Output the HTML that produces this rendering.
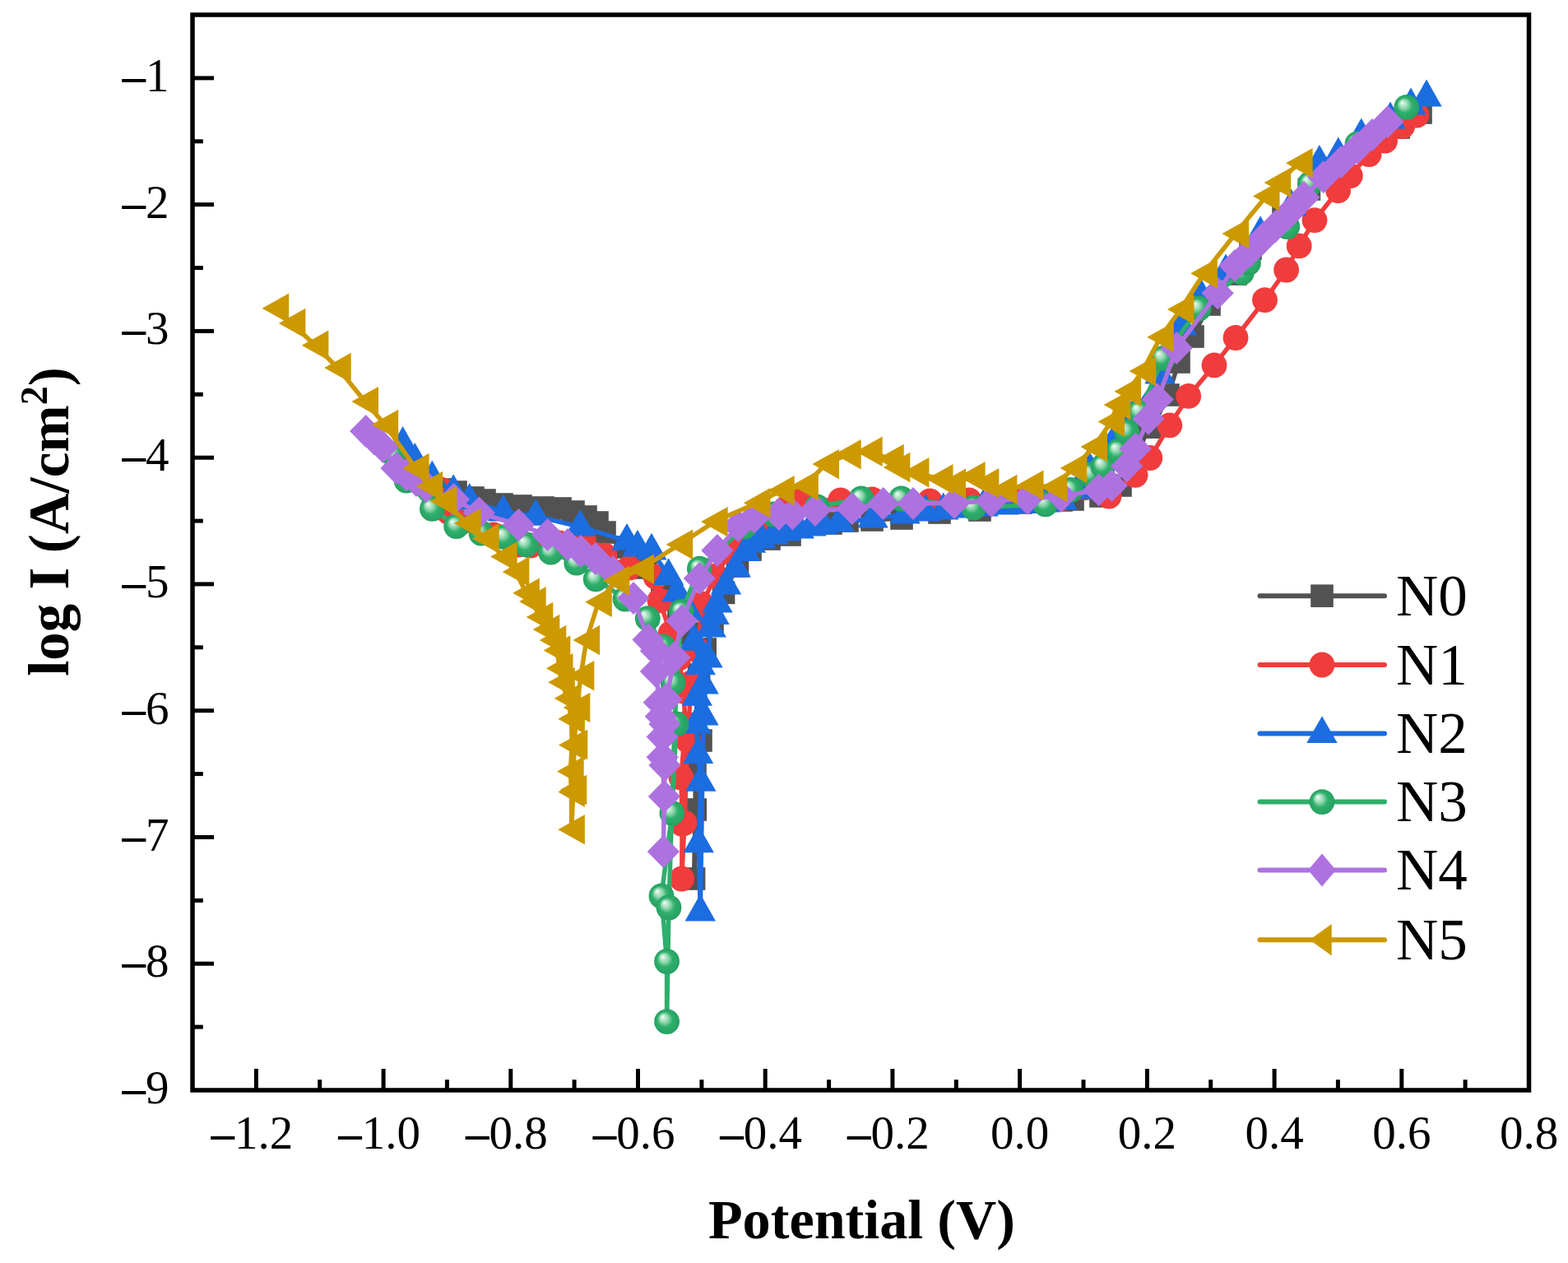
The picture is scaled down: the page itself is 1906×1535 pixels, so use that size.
<!DOCTYPE html><html><head><meta charset="utf-8"><style>html,body{margin:0;padding:0;background:#fff;}svg{display:block;font-family:"Liberation Serif","Times New Roman",serif;}</style></head><body><svg width="1906" height="1535" viewBox="0 0 1906 1535">
<defs><radialGradient id="gsp" cx="0.5" cy="0.5" r="0.5" fx="0.32" fy="0.3"><stop offset="0" stop-color="#f4fff8"/><stop offset="0.35" stop-color="#8fd6ad"/><stop offset="0.6" stop-color="#2eaf6b"/><stop offset="1" stop-color="#27a062"/></radialGradient></defs>
<rect width="1906" height="1535" fill="#ffffff"/>
<polyline points="537.0,595.0 554.0,598.0 575.0,605.0 589.0,608.0 610.0,613.0 633.0,615.0 660.0,617.0 681.0,618.0 697.0,622.0 712.0,628.0 726.0,635.0 735.0,647.0 760.0,665.0 785.0,690.0 805.0,712.0 825.0,740.0 840.0,770.0 849.6,820.0 845.7,880.0 845.0,930.0 845.3,984.0 843.6,1068.0 852.0,900.0 857.2,789.0 866.0,760.0 879.6,720.4 896.5,688.0 912.0,668.0 935.0,655.0 960.0,650.0 1010.0,636.0 1030.0,633.0 1060.0,632.0 1096.0,630.0 1142.0,623.0 1191.0,620.0 1241.0,611.0 1290.0,608.0 1304.0,607.0 1338.0,603.0 1362.0,590.0 1380.0,560.0 1396.0,519.0 1401.0,519.0 1420.0,480.0 1433.0,440.0 1450.0,409.0 1470.0,370.0 1502.0,333.0 1520.0,302.0 1560.0,265.0 1591.4,230.0 1627.0,209.0 1660.0,180.0 1700.0,155.0 1727.0,137.0" fill="none" stroke="#525252" stroke-width="5.5" stroke-linejoin="round"/>
<rect x="523.2" y="581.2" width="27.6" height="27.6" fill="#525252"/>
<rect x="540.2" y="584.2" width="27.6" height="27.6" fill="#525252"/>
<rect x="561.2" y="591.2" width="27.6" height="27.6" fill="#525252"/>
<rect x="575.2" y="594.2" width="27.6" height="27.6" fill="#525252"/>
<rect x="596.2" y="599.2" width="27.6" height="27.6" fill="#525252"/>
<rect x="619.2" y="601.2" width="27.6" height="27.6" fill="#525252"/>
<rect x="646.2" y="603.2" width="27.6" height="27.6" fill="#525252"/>
<rect x="667.2" y="604.2" width="27.6" height="27.6" fill="#525252"/>
<rect x="683.2" y="608.2" width="27.6" height="27.6" fill="#525252"/>
<rect x="698.2" y="614.2" width="27.6" height="27.6" fill="#525252"/>
<rect x="712.2" y="621.2" width="27.6" height="27.6" fill="#525252"/>
<rect x="721.2" y="633.2" width="27.6" height="27.6" fill="#525252"/>
<rect x="746.2" y="651.2" width="27.6" height="27.6" fill="#525252"/>
<rect x="771.2" y="676.2" width="27.6" height="27.6" fill="#525252"/>
<rect x="791.2" y="698.2" width="27.6" height="27.6" fill="#525252"/>
<rect x="811.2" y="726.2" width="27.6" height="27.6" fill="#525252"/>
<rect x="826.2" y="756.2" width="27.6" height="27.6" fill="#525252"/>
<rect x="835.8" y="806.2" width="27.6" height="27.6" fill="#525252"/>
<rect x="831.9" y="866.2" width="27.6" height="27.6" fill="#525252"/>
<rect x="831.2" y="916.2" width="27.6" height="27.6" fill="#525252"/>
<rect x="831.5" y="970.2" width="27.6" height="27.6" fill="#525252"/>
<rect x="829.8" y="1054.2" width="27.6" height="27.6" fill="#525252"/>
<rect x="838.2" y="886.2" width="27.6" height="27.6" fill="#525252"/>
<rect x="843.4" y="775.2" width="27.6" height="27.6" fill="#525252"/>
<rect x="852.2" y="746.2" width="27.6" height="27.6" fill="#525252"/>
<rect x="865.8" y="706.6" width="27.6" height="27.6" fill="#525252"/>
<rect x="882.7" y="674.2" width="27.6" height="27.6" fill="#525252"/>
<rect x="898.2" y="654.2" width="27.6" height="27.6" fill="#525252"/>
<rect x="921.2" y="641.2" width="27.6" height="27.6" fill="#525252"/>
<rect x="946.2" y="636.2" width="27.6" height="27.6" fill="#525252"/>
<rect x="996.2" y="622.2" width="27.6" height="27.6" fill="#525252"/>
<rect x="1016.2" y="619.2" width="27.6" height="27.6" fill="#525252"/>
<rect x="1046.2" y="618.2" width="27.6" height="27.6" fill="#525252"/>
<rect x="1082.2" y="616.2" width="27.6" height="27.6" fill="#525252"/>
<rect x="1128.2" y="609.2" width="27.6" height="27.6" fill="#525252"/>
<rect x="1177.2" y="606.2" width="27.6" height="27.6" fill="#525252"/>
<rect x="1227.2" y="597.2" width="27.6" height="27.6" fill="#525252"/>
<rect x="1276.2" y="594.2" width="27.6" height="27.6" fill="#525252"/>
<rect x="1290.2" y="593.2" width="27.6" height="27.6" fill="#525252"/>
<rect x="1324.2" y="589.2" width="27.6" height="27.6" fill="#525252"/>
<rect x="1348.2" y="576.2" width="27.6" height="27.6" fill="#525252"/>
<rect x="1366.2" y="546.2" width="27.6" height="27.6" fill="#525252"/>
<rect x="1382.2" y="505.2" width="27.6" height="27.6" fill="#525252"/>
<rect x="1387.2" y="505.2" width="27.6" height="27.6" fill="#525252"/>
<rect x="1406.2" y="466.2" width="27.6" height="27.6" fill="#525252"/>
<rect x="1419.2" y="426.2" width="27.6" height="27.6" fill="#525252"/>
<rect x="1436.2" y="395.2" width="27.6" height="27.6" fill="#525252"/>
<rect x="1456.2" y="356.2" width="27.6" height="27.6" fill="#525252"/>
<rect x="1488.2" y="319.2" width="27.6" height="27.6" fill="#525252"/>
<rect x="1506.2" y="288.2" width="27.6" height="27.6" fill="#525252"/>
<rect x="1546.2" y="251.2" width="27.6" height="27.6" fill="#525252"/>
<rect x="1577.6" y="216.2" width="27.6" height="27.6" fill="#525252"/>
<rect x="1613.2" y="195.2" width="27.6" height="27.6" fill="#525252"/>
<rect x="1646.2" y="166.2" width="27.6" height="27.6" fill="#525252"/>
<rect x="1686.2" y="141.2" width="27.6" height="27.6" fill="#525252"/>
<rect x="1713.2" y="123.2" width="27.6" height="27.6" fill="#525252"/>
<polyline points="488.0,552.0 505.0,572.0 536.0,595.0 545.0,622.0 560.0,635.0 600.0,650.0 630.0,662.0 645.0,663.0 680.0,660.0 709.0,655.0 720.0,673.0 735.0,675.0 765.0,690.0 797.0,701.0 802.0,729.8 815.0,770.0 825.0,800.0 831.0,840.0 833.0,880.0 828.0,945.0 829.2,1001.4 828.7,1068.0 832.0,1000.0 836.0,900.0 840.0,830.0 848.0,790.0 853.0,734.0 870.0,700.0 888.0,670.0 904.0,652.0 930.0,630.0 955.0,618.0 974.0,608.0 1021.7,608.0 1060.0,607.0 1130.3,609.0 1178.0,608.0 1235.0,607.0 1290.0,606.0 1348.0,603.0 1380.1,577.3 1397.8,556.5 1421.8,516.8 1444.7,481.4 1476.0,443.9 1502.0,410.5 1537.5,364.6 1563.6,328.0 1579.2,298.9 1598.0,267.6 1626.6,231.5 1641.3,213.6 1664.1,187.5 1683.6,171.2 1704.8,153.3 1722.0,140.0" fill="none" stroke="#f03c3c" stroke-width="5.5" stroke-linejoin="round"/>
<circle cx="488.0" cy="552.0" r="15.4" fill="#f03c3c"/>
<circle cx="505.0" cy="572.0" r="15.4" fill="#f03c3c"/>
<circle cx="536.0" cy="595.0" r="15.4" fill="#f03c3c"/>
<circle cx="545.0" cy="622.0" r="15.4" fill="#f03c3c"/>
<circle cx="560.0" cy="635.0" r="15.4" fill="#f03c3c"/>
<circle cx="600.0" cy="650.0" r="15.4" fill="#f03c3c"/>
<circle cx="630.0" cy="662.0" r="15.4" fill="#f03c3c"/>
<circle cx="645.0" cy="663.0" r="15.4" fill="#f03c3c"/>
<circle cx="680.0" cy="660.0" r="15.4" fill="#f03c3c"/>
<circle cx="709.0" cy="655.0" r="15.4" fill="#f03c3c"/>
<circle cx="720.0" cy="673.0" r="15.4" fill="#f03c3c"/>
<circle cx="735.0" cy="675.0" r="15.4" fill="#f03c3c"/>
<circle cx="765.0" cy="690.0" r="15.4" fill="#f03c3c"/>
<circle cx="797.0" cy="701.0" r="15.4" fill="#f03c3c"/>
<circle cx="802.0" cy="729.8" r="15.4" fill="#f03c3c"/>
<circle cx="815.0" cy="770.0" r="15.4" fill="#f03c3c"/>
<circle cx="825.0" cy="800.0" r="15.4" fill="#f03c3c"/>
<circle cx="831.0" cy="840.0" r="15.4" fill="#f03c3c"/>
<circle cx="833.0" cy="880.0" r="15.4" fill="#f03c3c"/>
<circle cx="828.0" cy="945.0" r="15.4" fill="#f03c3c"/>
<circle cx="829.2" cy="1001.4" r="15.4" fill="#f03c3c"/>
<circle cx="828.7" cy="1068.0" r="15.4" fill="#f03c3c"/>
<circle cx="832.0" cy="1000.0" r="15.4" fill="#f03c3c"/>
<circle cx="836.0" cy="900.0" r="15.4" fill="#f03c3c"/>
<circle cx="840.0" cy="830.0" r="15.4" fill="#f03c3c"/>
<circle cx="848.0" cy="790.0" r="15.4" fill="#f03c3c"/>
<circle cx="853.0" cy="734.0" r="15.4" fill="#f03c3c"/>
<circle cx="870.0" cy="700.0" r="15.4" fill="#f03c3c"/>
<circle cx="888.0" cy="670.0" r="15.4" fill="#f03c3c"/>
<circle cx="904.0" cy="652.0" r="15.4" fill="#f03c3c"/>
<circle cx="930.0" cy="630.0" r="15.4" fill="#f03c3c"/>
<circle cx="955.0" cy="618.0" r="15.4" fill="#f03c3c"/>
<circle cx="974.0" cy="608.0" r="15.4" fill="#f03c3c"/>
<circle cx="1021.7" cy="608.0" r="15.4" fill="#f03c3c"/>
<circle cx="1060.0" cy="607.0" r="15.4" fill="#f03c3c"/>
<circle cx="1130.3" cy="609.0" r="15.4" fill="#f03c3c"/>
<circle cx="1178.0" cy="608.0" r="15.4" fill="#f03c3c"/>
<circle cx="1235.0" cy="607.0" r="15.4" fill="#f03c3c"/>
<circle cx="1290.0" cy="606.0" r="15.4" fill="#f03c3c"/>
<circle cx="1348.0" cy="603.0" r="15.4" fill="#f03c3c"/>
<circle cx="1380.1" cy="577.3" r="15.4" fill="#f03c3c"/>
<circle cx="1397.8" cy="556.5" r="15.4" fill="#f03c3c"/>
<circle cx="1421.8" cy="516.8" r="15.4" fill="#f03c3c"/>
<circle cx="1444.7" cy="481.4" r="15.4" fill="#f03c3c"/>
<circle cx="1476.0" cy="443.9" r="15.4" fill="#f03c3c"/>
<circle cx="1502.0" cy="410.5" r="15.4" fill="#f03c3c"/>
<circle cx="1537.5" cy="364.6" r="15.4" fill="#f03c3c"/>
<circle cx="1563.6" cy="328.0" r="15.4" fill="#f03c3c"/>
<circle cx="1579.2" cy="298.9" r="15.4" fill="#f03c3c"/>
<circle cx="1598.0" cy="267.6" r="15.4" fill="#f03c3c"/>
<circle cx="1626.6" cy="231.5" r="15.4" fill="#f03c3c"/>
<circle cx="1641.3" cy="213.6" r="15.4" fill="#f03c3c"/>
<circle cx="1664.1" cy="187.5" r="15.4" fill="#f03c3c"/>
<circle cx="1683.6" cy="171.2" r="15.4" fill="#f03c3c"/>
<circle cx="1704.8" cy="153.3" r="15.4" fill="#f03c3c"/>
<circle cx="1722.0" cy="140.0" r="15.4" fill="#f03c3c"/>
<polyline points="489.6,539.5 504.3,559.5 525.3,581.0 551.2,597.6 570.7,608.4 611.7,622.0 651.3,627.4 705.3,640.4 762.0,657.4 775.0,665.2 792.0,669.2 812.6,699.6 823.0,720.0 836.6,742.6 843.9,779.4 851.3,808.8 855.1,832.0 847.3,846.3 846.0,880.0 848.6,916.6 851.8,950.3 849.2,1024.8 851.3,1108.0 855.0,870.0 860.0,800.0 864.2,763.2 868.1,747.6 872.0,733.2 882.5,711.1 894.2,690.2 905.9,670.6 912.4,660.3 925.0,655.0 940.0,650.0 955.0,646.0 971.3,643.0 986.0,640.0 1000.0,638.0 1020.0,635.0 1061.0,630.0 1100.0,625.0 1125.0,622.0 1146.7,620.0 1170.0,618.0 1195.0,616.0 1220.0,614.0 1245.0,612.5 1270.0,611.0 1291.0,608.0 1310.0,595.0 1322.5,566.6 1351.4,540.3 1380.0,500.0 1410.0,455.0 1436.4,396.0 1460.0,360.0 1490.0,330.0 1532.1,283.6 1569.6,251.0 1603.8,197.3 1626.8,188.0 1654.7,165.0 1690.0,145.0 1715.0,128.0 1734.0,118.0" fill="none" stroke="#1b6de0" stroke-width="5.5" stroke-linejoin="round"/>
<polygon points="489.6,518.1 508.3,550.9 470.9,550.9" fill="#1b6de0"/>
<polygon points="504.3,538.1 523.0,570.9 485.6,570.9" fill="#1b6de0"/>
<polygon points="525.3,559.6 544.0,592.4 506.6,592.4" fill="#1b6de0"/>
<polygon points="551.2,576.2 569.9,609.0 532.5,609.0" fill="#1b6de0"/>
<polygon points="570.7,587.0 589.4,619.8 552.0,619.8" fill="#1b6de0"/>
<polygon points="611.7,600.6 630.4,633.4 593.0,633.4" fill="#1b6de0"/>
<polygon points="651.3,606.0 670.0,638.8 632.6,638.8" fill="#1b6de0"/>
<polygon points="705.3,619.0 724.0,651.8 686.6,651.8" fill="#1b6de0"/>
<polygon points="762.0,636.0 780.7,668.8 743.3,668.8" fill="#1b6de0"/>
<polygon points="775.0,643.8 793.7,676.6 756.3,676.6" fill="#1b6de0"/>
<polygon points="792.0,647.8 810.7,680.6 773.3,680.6" fill="#1b6de0"/>
<polygon points="812.6,678.2 831.3,711.0 793.9,711.0" fill="#1b6de0"/>
<polygon points="823.0,698.6 841.7,731.4 804.3,731.4" fill="#1b6de0"/>
<polygon points="836.6,721.2 855.3,754.0 817.9,754.0" fill="#1b6de0"/>
<polygon points="843.9,758.0 862.6,790.8 825.2,790.8" fill="#1b6de0"/>
<polygon points="851.3,787.4 870.0,820.2 832.6,820.2" fill="#1b6de0"/>
<polygon points="855.1,810.6 873.8,843.4 836.4,843.4" fill="#1b6de0"/>
<polygon points="847.3,824.9 866.0,857.7 828.6,857.7" fill="#1b6de0"/>
<polygon points="846.0,858.6 864.7,891.4 827.3,891.4" fill="#1b6de0"/>
<polygon points="848.6,895.2 867.3,928.0 829.9,928.0" fill="#1b6de0"/>
<polygon points="851.8,928.9 870.5,961.7 833.1,961.7" fill="#1b6de0"/>
<polygon points="849.2,1003.4 867.9,1036.2 830.5,1036.2" fill="#1b6de0"/>
<polygon points="851.3,1086.6 870.0,1119.4 832.6,1119.4" fill="#1b6de0"/>
<polygon points="855.0,848.6 873.7,881.4 836.3,881.4" fill="#1b6de0"/>
<polygon points="860.0,778.6 878.7,811.4 841.3,811.4" fill="#1b6de0"/>
<polygon points="864.2,741.8 882.9,774.6 845.5,774.6" fill="#1b6de0"/>
<polygon points="868.1,726.2 886.8,759.0 849.4,759.0" fill="#1b6de0"/>
<polygon points="872.0,711.8 890.7,744.6 853.3,744.6" fill="#1b6de0"/>
<polygon points="882.5,689.7 901.2,722.5 863.8,722.5" fill="#1b6de0"/>
<polygon points="894.2,668.8 912.9,701.6 875.5,701.6" fill="#1b6de0"/>
<polygon points="905.9,649.2 924.6,682.0 887.2,682.0" fill="#1b6de0"/>
<polygon points="912.4,638.9 931.1,671.7 893.7,671.7" fill="#1b6de0"/>
<polygon points="925.0,633.6 943.7,666.4 906.3,666.4" fill="#1b6de0"/>
<polygon points="940.0,628.6 958.7,661.4 921.3,661.4" fill="#1b6de0"/>
<polygon points="955.0,624.6 973.7,657.4 936.3,657.4" fill="#1b6de0"/>
<polygon points="971.3,621.6 990.0,654.4 952.6,654.4" fill="#1b6de0"/>
<polygon points="986.0,618.6 1004.7,651.4 967.3,651.4" fill="#1b6de0"/>
<polygon points="1000.0,616.6 1018.7,649.4 981.3,649.4" fill="#1b6de0"/>
<polygon points="1020.0,613.6 1038.7,646.4 1001.3,646.4" fill="#1b6de0"/>
<polygon points="1061.0,608.6 1079.7,641.4 1042.3,641.4" fill="#1b6de0"/>
<polygon points="1100.0,603.6 1118.7,636.4 1081.3,636.4" fill="#1b6de0"/>
<polygon points="1125.0,600.6 1143.7,633.4 1106.3,633.4" fill="#1b6de0"/>
<polygon points="1146.7,598.6 1165.4,631.4 1128.0,631.4" fill="#1b6de0"/>
<polygon points="1170.0,596.6 1188.7,629.4 1151.3,629.4" fill="#1b6de0"/>
<polygon points="1195.0,594.6 1213.7,627.4 1176.3,627.4" fill="#1b6de0"/>
<polygon points="1220.0,592.6 1238.7,625.4 1201.3,625.4" fill="#1b6de0"/>
<polygon points="1245.0,591.1 1263.7,623.9 1226.3,623.9" fill="#1b6de0"/>
<polygon points="1270.0,589.6 1288.7,622.4 1251.3,622.4" fill="#1b6de0"/>
<polygon points="1291.0,586.6 1309.7,619.4 1272.3,619.4" fill="#1b6de0"/>
<polygon points="1310.0,573.6 1328.7,606.4 1291.3,606.4" fill="#1b6de0"/>
<polygon points="1322.5,545.2 1341.2,578.0 1303.8,578.0" fill="#1b6de0"/>
<polygon points="1351.4,518.9 1370.1,551.7 1332.7,551.7" fill="#1b6de0"/>
<polygon points="1380.0,478.6 1398.7,511.4 1361.3,511.4" fill="#1b6de0"/>
<polygon points="1410.0,433.6 1428.7,466.4 1391.3,466.4" fill="#1b6de0"/>
<polygon points="1436.4,374.6 1455.1,407.4 1417.7,407.4" fill="#1b6de0"/>
<polygon points="1460.0,338.6 1478.7,371.4 1441.3,371.4" fill="#1b6de0"/>
<polygon points="1490.0,308.6 1508.7,341.4 1471.3,341.4" fill="#1b6de0"/>
<polygon points="1532.1,262.2 1550.8,295.0 1513.4,295.0" fill="#1b6de0"/>
<polygon points="1569.6,229.6 1588.3,262.4 1550.9,262.4" fill="#1b6de0"/>
<polygon points="1603.8,175.9 1622.5,208.7 1585.1,208.7" fill="#1b6de0"/>
<polygon points="1626.8,166.6 1645.5,199.4 1608.1,199.4" fill="#1b6de0"/>
<polygon points="1654.7,143.6 1673.4,176.4 1636.0,176.4" fill="#1b6de0"/>
<polygon points="1690.0,123.6 1708.7,156.4 1671.3,156.4" fill="#1b6de0"/>
<polygon points="1715.0,106.6 1733.7,139.4 1696.3,139.4" fill="#1b6de0"/>
<polygon points="1734.0,96.6 1752.7,129.4 1715.3,129.4" fill="#1b6de0"/>
<polyline points="478.0,552.0 494.0,584.0 525.4,618.4 554.7,639.6 585.0,648.0 613.4,652.6 640.0,662.0 669.5,671.2 700.8,684.2 724.2,703.8 760.0,728.0 787.3,751.7 806.0,786.0 818.0,830.0 822.0,880.0 816.9,988.1 804.0,1089.0 810.6,1168.5 810.6,1241.6 813.0,1103.0 820.0,880.0 828.2,743.3 850.4,691.2 905.0,640.0 940.0,625.0 993.3,616.0 1047.0,606.0 1095.6,606.0 1183.5,617.0 1270.7,612.9 1301.5,595.4 1325.1,577.0 1340.9,566.6 1359.2,548.2 1369.7,524.6 1385.5,501.0 1413.4,435.5 1457.2,375.0 1509.4,331.3 1517.5,319.5 1564.7,275.5 1592.4,223.3 1650.0,175.0 1709.7,130.5" fill="none" stroke="#2eaf6b" stroke-width="5.5" stroke-linejoin="round"/>
<circle cx="478.0" cy="552.0" r="15.4" fill="url(#gsp)"/>
<circle cx="494.0" cy="584.0" r="15.4" fill="url(#gsp)"/>
<circle cx="525.4" cy="618.4" r="15.4" fill="url(#gsp)"/>
<circle cx="554.7" cy="639.6" r="15.4" fill="url(#gsp)"/>
<circle cx="585.0" cy="648.0" r="15.4" fill="url(#gsp)"/>
<circle cx="613.4" cy="652.6" r="15.4" fill="url(#gsp)"/>
<circle cx="640.0" cy="662.0" r="15.4" fill="url(#gsp)"/>
<circle cx="669.5" cy="671.2" r="15.4" fill="url(#gsp)"/>
<circle cx="700.8" cy="684.2" r="15.4" fill="url(#gsp)"/>
<circle cx="724.2" cy="703.8" r="15.4" fill="url(#gsp)"/>
<circle cx="760.0" cy="728.0" r="15.4" fill="url(#gsp)"/>
<circle cx="787.3" cy="751.7" r="15.4" fill="url(#gsp)"/>
<circle cx="806.0" cy="786.0" r="15.4" fill="url(#gsp)"/>
<circle cx="818.0" cy="830.0" r="15.4" fill="url(#gsp)"/>
<circle cx="822.0" cy="880.0" r="15.4" fill="url(#gsp)"/>
<circle cx="816.9" cy="988.1" r="15.4" fill="url(#gsp)"/>
<circle cx="804.0" cy="1089.0" r="15.4" fill="url(#gsp)"/>
<circle cx="810.6" cy="1168.5" r="15.4" fill="url(#gsp)"/>
<circle cx="810.6" cy="1241.6" r="15.4" fill="url(#gsp)"/>
<circle cx="813.0" cy="1103.0" r="15.4" fill="url(#gsp)"/>
<circle cx="820.0" cy="880.0" r="15.4" fill="url(#gsp)"/>
<circle cx="828.2" cy="743.3" r="15.4" fill="url(#gsp)"/>
<circle cx="850.4" cy="691.2" r="15.4" fill="url(#gsp)"/>
<circle cx="905.0" cy="640.0" r="15.4" fill="url(#gsp)"/>
<circle cx="940.0" cy="625.0" r="15.4" fill="url(#gsp)"/>
<circle cx="993.3" cy="616.0" r="15.4" fill="url(#gsp)"/>
<circle cx="1047.0" cy="606.0" r="15.4" fill="url(#gsp)"/>
<circle cx="1095.6" cy="606.0" r="15.4" fill="url(#gsp)"/>
<circle cx="1183.5" cy="617.0" r="15.4" fill="url(#gsp)"/>
<circle cx="1270.7" cy="612.9" r="15.4" fill="url(#gsp)"/>
<circle cx="1301.5" cy="595.4" r="15.4" fill="url(#gsp)"/>
<circle cx="1325.1" cy="577.0" r="15.4" fill="url(#gsp)"/>
<circle cx="1340.9" cy="566.6" r="15.4" fill="url(#gsp)"/>
<circle cx="1359.2" cy="548.2" r="15.4" fill="url(#gsp)"/>
<circle cx="1369.7" cy="524.6" r="15.4" fill="url(#gsp)"/>
<circle cx="1385.5" cy="501.0" r="15.4" fill="url(#gsp)"/>
<circle cx="1413.4" cy="435.5" r="15.4" fill="url(#gsp)"/>
<circle cx="1457.2" cy="375.0" r="15.4" fill="url(#gsp)"/>
<circle cx="1509.4" cy="331.3" r="15.4" fill="url(#gsp)"/>
<circle cx="1517.5" cy="319.5" r="15.4" fill="url(#gsp)"/>
<circle cx="1564.7" cy="275.5" r="15.4" fill="url(#gsp)"/>
<circle cx="1592.4" cy="223.3" r="15.4" fill="url(#gsp)"/>
<circle cx="1650.0" cy="175.0" r="15.4" fill="url(#gsp)"/>
<circle cx="1709.7" cy="130.5" r="15.4" fill="url(#gsp)"/>
<polyline points="444.7,524.0 455.0,533.5 465.4,543.0 482.0,569.0 494.0,577.0 506.0,584.0 518.0,591.0 551.5,607.0 582.4,623.3 630.5,638.0 665.6,650.0 690.0,662.0 706.0,670.0 724.0,679.0 745.0,695.0 770.0,727.0 788.0,777.5 797.4,791.0 797.4,816.0 801.3,853.8 803.3,870.7 805.2,895.5 805.2,920.3 807.5,968.0 806.4,1035.0 808.0,930.0 808.0,880.0 810.0,850.0 819.9,799.0 828.9,754.5 850.4,703.0 871.9,669.0 897.3,639.0 916.8,628.7 946.8,625.0 963.4,624.5 990.9,620.0 1035.8,618.2 1073.6,612.0 1110.0,612.0 1160.0,611.0 1205.0,609.0 1249.0,606.0 1290.0,603.0 1335.6,595.4 1351.4,590.2 1369.7,566.6 1380.2,545.6 1396.0,508.9 1407.2,485.6 1430.1,423.0 1480.2,356.3 1501.0,322.9 1520.0,305.0 1535.0,290.0 1550.0,275.5 1568.0,258.0 1585.0,240.0 1608.7,215.2 1630.0,197.0 1650.0,180.0 1668.0,164.0 1687.0,148.0" fill="none" stroke="#ad72e0" stroke-width="5.5" stroke-linejoin="round"/>
<polygon points="444.7,504.1 464.3,524.0 444.7,543.9 425.1,524.0" fill="#ad72e0"/>
<polygon points="455.0,513.6 474.6,533.5 455.0,553.4 435.4,533.5" fill="#ad72e0"/>
<polygon points="465.4,523.1 485.0,543.0 465.4,562.9 445.8,543.0" fill="#ad72e0"/>
<polygon points="482.0,549.1 501.6,569.0 482.0,588.9 462.4,569.0" fill="#ad72e0"/>
<polygon points="494.0,557.1 513.6,577.0 494.0,596.9 474.4,577.0" fill="#ad72e0"/>
<polygon points="506.0,564.1 525.6,584.0 506.0,603.9 486.4,584.0" fill="#ad72e0"/>
<polygon points="518.0,571.1 537.6,591.0 518.0,610.9 498.4,591.0" fill="#ad72e0"/>
<polygon points="551.5,587.1 571.1,607.0 551.5,626.9 531.9,607.0" fill="#ad72e0"/>
<polygon points="582.4,603.4 602.0,623.3 582.4,643.2 562.8,623.3" fill="#ad72e0"/>
<polygon points="630.5,618.1 650.1,638.0 630.5,657.9 610.9,638.0" fill="#ad72e0"/>
<polygon points="665.6,630.1 685.2,650.0 665.6,669.9 646.0,650.0" fill="#ad72e0"/>
<polygon points="690.0,642.1 709.6,662.0 690.0,681.9 670.4,662.0" fill="#ad72e0"/>
<polygon points="706.0,650.1 725.6,670.0 706.0,689.9 686.4,670.0" fill="#ad72e0"/>
<polygon points="724.0,659.1 743.6,679.0 724.0,698.9 704.4,679.0" fill="#ad72e0"/>
<polygon points="745.0,675.1 764.6,695.0 745.0,714.9 725.4,695.0" fill="#ad72e0"/>
<polygon points="770.0,707.1 789.6,727.0 770.0,746.9 750.4,727.0" fill="#ad72e0"/>
<polygon points="788.0,757.6 807.6,777.5 788.0,797.4 768.4,777.5" fill="#ad72e0"/>
<polygon points="797.4,771.1 817.0,791.0 797.4,810.9 777.8,791.0" fill="#ad72e0"/>
<polygon points="797.4,796.1 817.0,816.0 797.4,835.9 777.8,816.0" fill="#ad72e0"/>
<polygon points="801.3,833.9 820.9,853.8 801.3,873.7 781.7,853.8" fill="#ad72e0"/>
<polygon points="803.3,850.8 822.9,870.7 803.3,890.6 783.7,870.7" fill="#ad72e0"/>
<polygon points="805.2,875.6 824.8,895.5 805.2,915.4 785.6,895.5" fill="#ad72e0"/>
<polygon points="805.2,900.4 824.8,920.3 805.2,940.2 785.6,920.3" fill="#ad72e0"/>
<polygon points="807.5,948.1 827.1,968.0 807.5,987.9 787.9,968.0" fill="#ad72e0"/>
<polygon points="806.4,1015.1 826.0,1035.0 806.4,1054.9 786.8,1035.0" fill="#ad72e0"/>
<polygon points="808.0,910.1 827.6,930.0 808.0,949.9 788.4,930.0" fill="#ad72e0"/>
<polygon points="808.0,860.1 827.6,880.0 808.0,899.9 788.4,880.0" fill="#ad72e0"/>
<polygon points="810.0,830.1 829.6,850.0 810.0,869.9 790.4,850.0" fill="#ad72e0"/>
<polygon points="819.9,779.1 839.5,799.0 819.9,818.9 800.3,799.0" fill="#ad72e0"/>
<polygon points="828.9,734.6 848.5,754.5 828.9,774.4 809.3,754.5" fill="#ad72e0"/>
<polygon points="850.4,683.1 870.0,703.0 850.4,722.9 830.8,703.0" fill="#ad72e0"/>
<polygon points="871.9,649.1 891.5,669.0 871.9,688.9 852.3,669.0" fill="#ad72e0"/>
<polygon points="897.3,619.1 916.9,639.0 897.3,658.9 877.7,639.0" fill="#ad72e0"/>
<polygon points="916.8,608.8 936.4,628.7 916.8,648.6 897.2,628.7" fill="#ad72e0"/>
<polygon points="946.8,605.1 966.4,625.0 946.8,644.9 927.2,625.0" fill="#ad72e0"/>
<polygon points="963.4,604.6 983.0,624.5 963.4,644.4 943.8,624.5" fill="#ad72e0"/>
<polygon points="990.9,600.1 1010.5,620.0 990.9,639.9 971.3,620.0" fill="#ad72e0"/>
<polygon points="1035.8,598.3 1055.4,618.2 1035.8,638.1 1016.2,618.2" fill="#ad72e0"/>
<polygon points="1073.6,592.1 1093.2,612.0 1073.6,631.9 1054.0,612.0" fill="#ad72e0"/>
<polygon points="1110.0,592.1 1129.6,612.0 1110.0,631.9 1090.4,612.0" fill="#ad72e0"/>
<polygon points="1160.0,591.1 1179.6,611.0 1160.0,630.9 1140.4,611.0" fill="#ad72e0"/>
<polygon points="1205.0,589.1 1224.6,609.0 1205.0,628.9 1185.4,609.0" fill="#ad72e0"/>
<polygon points="1249.0,586.1 1268.6,606.0 1249.0,625.9 1229.4,606.0" fill="#ad72e0"/>
<polygon points="1290.0,583.1 1309.6,603.0 1290.0,622.9 1270.4,603.0" fill="#ad72e0"/>
<polygon points="1335.6,575.5 1355.2,595.4 1335.6,615.3 1316.0,595.4" fill="#ad72e0"/>
<polygon points="1351.4,570.3 1371.0,590.2 1351.4,610.1 1331.8,590.2" fill="#ad72e0"/>
<polygon points="1369.7,546.7 1389.3,566.6 1369.7,586.5 1350.1,566.6" fill="#ad72e0"/>
<polygon points="1380.2,525.7 1399.8,545.6 1380.2,565.5 1360.6,545.6" fill="#ad72e0"/>
<polygon points="1396.0,489.0 1415.6,508.9 1396.0,528.8 1376.4,508.9" fill="#ad72e0"/>
<polygon points="1407.2,465.7 1426.8,485.6 1407.2,505.5 1387.6,485.6" fill="#ad72e0"/>
<polygon points="1430.1,403.1 1449.7,423.0 1430.1,442.9 1410.5,423.0" fill="#ad72e0"/>
<polygon points="1480.2,336.4 1499.8,356.3 1480.2,376.2 1460.6,356.3" fill="#ad72e0"/>
<polygon points="1501.0,303.0 1520.6,322.9 1501.0,342.8 1481.4,322.9" fill="#ad72e0"/>
<polygon points="1520.0,285.1 1539.6,305.0 1520.0,324.9 1500.4,305.0" fill="#ad72e0"/>
<polygon points="1535.0,270.1 1554.6,290.0 1535.0,309.9 1515.4,290.0" fill="#ad72e0"/>
<polygon points="1550.0,255.6 1569.6,275.5 1550.0,295.4 1530.4,275.5" fill="#ad72e0"/>
<polygon points="1568.0,238.1 1587.6,258.0 1568.0,277.9 1548.4,258.0" fill="#ad72e0"/>
<polygon points="1585.0,220.1 1604.6,240.0 1585.0,259.9 1565.4,240.0" fill="#ad72e0"/>
<polygon points="1608.7,195.3 1628.3,215.2 1608.7,235.1 1589.1,215.2" fill="#ad72e0"/>
<polygon points="1630.0,177.1 1649.6,197.0 1630.0,216.9 1610.4,197.0" fill="#ad72e0"/>
<polygon points="1650.0,160.1 1669.6,180.0 1650.0,199.9 1630.4,180.0" fill="#ad72e0"/>
<polygon points="1668.0,144.1 1687.6,164.0 1668.0,183.9 1648.4,164.0" fill="#ad72e0"/>
<polygon points="1687.0,128.1 1706.6,148.0 1687.0,167.9 1667.4,148.0" fill="#ad72e0"/>
<polyline points="334.9,374.8 355.1,393.0 383.1,419.7 410.4,447.0 443.7,488.1 467.9,516.0 505.3,569.0 521.9,591.0 539.0,609.0 568.3,636.0 590.3,654.4 612.4,676.5 627.0,694.9 639.5,720.7 647.4,731.1 656.0,750.0 664.0,765.0 672.0,778.0 677.0,790.5 680.2,812.2 682.5,829.3 690.0,848.7 694.6,873.7 695.3,905.6 693.4,937.5 694.6,962.6 694.6,1008.2 697.0,960.0 698.0,905.0 701.0,860.0 706.0,821.3 712.8,778.0 727.5,731.7 749.0,705.7 778.7,691.6 825.9,661.7 868.4,634.1 920.2,611.3 949.4,596.3 978.5,590.0 1003.7,564.1 1030.4,552.3 1056.4,548.7 1082.4,558.0 1090.0,568.0 1113.1,574.3 1142.2,582.2 1157.7,587.7 1181.3,579.3 1198.1,587.2 1220.1,595.0 1252.2,589.8 1281.0,592.0 1305.0,569.0 1329.7,543.1 1350.8,512.6 1357.9,492.1 1370.8,475.7 1388.9,451.1 1410.6,409.8 1435.2,376.1 1463.5,332.3 1501.8,284.0 1539.2,238.4 1552.9,222.0 1579.3,198.2" fill="none" stroke="#cc9900" stroke-width="5.5" stroke-linejoin="round"/>
<polygon points="318.6,374.8 351.2,356.6 351.2,393.1" fill="#cc9900"/>
<polygon points="338.8,393.0 371.4,374.8 371.4,411.2" fill="#cc9900"/>
<polygon points="366.8,419.7 399.4,401.4 399.4,437.9" fill="#cc9900"/>
<polygon points="394.1,447.0 426.7,428.8 426.7,465.2" fill="#cc9900"/>
<polygon points="427.4,488.1 460.0,469.9 460.0,506.4" fill="#cc9900"/>
<polygon points="451.6,516.0 484.2,497.8 484.2,534.2" fill="#cc9900"/>
<polygon points="489.0,569.0 521.6,550.8 521.6,587.2" fill="#cc9900"/>
<polygon points="505.6,591.0 538.2,572.8 538.2,609.2" fill="#cc9900"/>
<polygon points="522.7,609.0 555.3,590.8 555.3,627.2" fill="#cc9900"/>
<polygon points="552.0,636.0 584.6,617.8 584.6,654.2" fill="#cc9900"/>
<polygon points="574.0,654.4 606.6,636.1 606.6,672.6" fill="#cc9900"/>
<polygon points="596.1,676.5 628.7,658.2 628.7,694.8" fill="#cc9900"/>
<polygon points="610.7,694.9 643.3,676.6 643.3,713.1" fill="#cc9900"/>
<polygon points="623.2,720.7 655.8,702.5 655.8,739.0" fill="#cc9900"/>
<polygon points="631.1,731.1 663.7,712.9 663.7,749.4" fill="#cc9900"/>
<polygon points="639.7,750.0 672.3,731.8 672.3,768.2" fill="#cc9900"/>
<polygon points="647.7,765.0 680.3,746.8 680.3,783.2" fill="#cc9900"/>
<polygon points="655.7,778.0 688.3,759.8 688.3,796.2" fill="#cc9900"/>
<polygon points="660.7,790.5 693.3,772.2 693.3,808.8" fill="#cc9900"/>
<polygon points="663.9,812.2 696.5,794.0 696.5,830.5" fill="#cc9900"/>
<polygon points="666.2,829.3 698.8,811.0 698.8,847.5" fill="#cc9900"/>
<polygon points="673.7,848.7 706.3,830.5 706.3,867.0" fill="#cc9900"/>
<polygon points="678.3,873.7 710.9,855.5 710.9,892.0" fill="#cc9900"/>
<polygon points="679.0,905.6 711.6,887.4 711.6,923.9" fill="#cc9900"/>
<polygon points="677.1,937.5 709.7,919.2 709.7,955.8" fill="#cc9900"/>
<polygon points="678.3,962.6 710.9,944.4 710.9,980.9" fill="#cc9900"/>
<polygon points="678.3,1008.2 710.9,990.0 710.9,1026.5" fill="#cc9900"/>
<polygon points="680.7,960.0 713.3,941.8 713.3,978.2" fill="#cc9900"/>
<polygon points="681.7,905.0 714.3,886.8 714.3,923.2" fill="#cc9900"/>
<polygon points="684.7,860.0 717.3,841.8 717.3,878.2" fill="#cc9900"/>
<polygon points="689.7,821.3 722.3,803.0 722.3,839.5" fill="#cc9900"/>
<polygon points="696.5,778.0 729.1,759.8 729.1,796.2" fill="#cc9900"/>
<polygon points="711.2,731.7 743.8,713.5 743.8,750.0" fill="#cc9900"/>
<polygon points="732.7,705.7 765.3,687.5 765.3,724.0" fill="#cc9900"/>
<polygon points="762.4,691.6 795.0,673.4 795.0,709.9" fill="#cc9900"/>
<polygon points="809.6,661.7 842.2,643.5 842.2,680.0" fill="#cc9900"/>
<polygon points="852.1,634.1 884.7,615.9 884.7,652.4" fill="#cc9900"/>
<polygon points="903.9,611.3 936.5,593.0 936.5,629.5" fill="#cc9900"/>
<polygon points="933.1,596.3 965.7,578.0 965.7,614.5" fill="#cc9900"/>
<polygon points="962.2,590.0 994.8,571.8 994.8,608.2" fill="#cc9900"/>
<polygon points="987.4,564.1 1020.0,545.9 1020.0,582.4" fill="#cc9900"/>
<polygon points="1014.1,552.3 1046.7,534.0 1046.7,570.5" fill="#cc9900"/>
<polygon points="1040.1,548.7 1072.7,530.5 1072.7,567.0" fill="#cc9900"/>
<polygon points="1066.1,558.0 1098.7,539.8 1098.7,576.2" fill="#cc9900"/>
<polygon points="1073.7,568.0 1106.3,549.8 1106.3,586.2" fill="#cc9900"/>
<polygon points="1096.8,574.3 1129.4,556.0 1129.4,592.5" fill="#cc9900"/>
<polygon points="1125.9,582.2 1158.5,564.0 1158.5,600.5" fill="#cc9900"/>
<polygon points="1141.4,587.7 1174.0,569.5 1174.0,606.0" fill="#cc9900"/>
<polygon points="1165.0,579.3 1197.6,561.0 1197.6,597.5" fill="#cc9900"/>
<polygon points="1181.8,587.2 1214.4,569.0 1214.4,605.5" fill="#cc9900"/>
<polygon points="1203.8,595.0 1236.4,576.8 1236.4,613.2" fill="#cc9900"/>
<polygon points="1235.9,589.8 1268.5,571.5 1268.5,608.0" fill="#cc9900"/>
<polygon points="1264.7,592.0 1297.3,573.8 1297.3,610.2" fill="#cc9900"/>
<polygon points="1288.7,569.0 1321.3,550.8 1321.3,587.2" fill="#cc9900"/>
<polygon points="1313.4,543.1 1346.0,524.9 1346.0,561.4" fill="#cc9900"/>
<polygon points="1334.5,512.6 1367.1,494.4 1367.1,530.9" fill="#cc9900"/>
<polygon points="1341.6,492.1 1374.2,473.9 1374.2,510.4" fill="#cc9900"/>
<polygon points="1354.5,475.7 1387.1,457.4 1387.1,493.9" fill="#cc9900"/>
<polygon points="1372.6,451.1 1405.2,432.9 1405.2,469.4" fill="#cc9900"/>
<polygon points="1394.3,409.8 1426.9,391.6 1426.9,428.1" fill="#cc9900"/>
<polygon points="1418.9,376.1 1451.5,357.9 1451.5,394.4" fill="#cc9900"/>
<polygon points="1447.2,332.3 1479.8,314.1 1479.8,350.6" fill="#cc9900"/>
<polygon points="1485.5,284.0 1518.1,265.8 1518.1,302.2" fill="#cc9900"/>
<polygon points="1522.9,238.4 1555.5,220.2 1555.5,256.6" fill="#cc9900"/>
<polygon points="1536.6,222.0 1569.2,203.8 1569.2,240.2" fill="#cc9900"/>
<polygon points="1563.0,198.2 1595.6,179.9 1595.6,216.4" fill="#cc9900"/>
<rect x="234.0" y="18.0" width="1624.5" height="1307.0" fill="none" stroke="#000" stroke-width="5.5"/>
<line x1="311.4" y1="1325.0" x2="311.4" y2="1299.0" stroke="#000" stroke-width="5"/>
<line x1="388.7" y1="1325.0" x2="388.7" y2="1312.2" stroke="#000" stroke-width="5"/>
<line x1="466.1" y1="1325.0" x2="466.1" y2="1299.0" stroke="#000" stroke-width="5"/>
<line x1="543.4" y1="1325.0" x2="543.4" y2="1312.2" stroke="#000" stroke-width="5"/>
<line x1="620.8" y1="1325.0" x2="620.8" y2="1299.0" stroke="#000" stroke-width="5"/>
<line x1="698.1" y1="1325.0" x2="698.1" y2="1312.2" stroke="#000" stroke-width="5"/>
<line x1="775.5" y1="1325.0" x2="775.5" y2="1299.0" stroke="#000" stroke-width="5"/>
<line x1="852.9" y1="1325.0" x2="852.9" y2="1312.2" stroke="#000" stroke-width="5"/>
<line x1="930.2" y1="1325.0" x2="930.2" y2="1299.0" stroke="#000" stroke-width="5"/>
<line x1="1007.6" y1="1325.0" x2="1007.6" y2="1312.2" stroke="#000" stroke-width="5"/>
<line x1="1084.9" y1="1325.0" x2="1084.9" y2="1299.0" stroke="#000" stroke-width="5"/>
<line x1="1162.3" y1="1325.0" x2="1162.3" y2="1312.2" stroke="#000" stroke-width="5"/>
<line x1="1239.6" y1="1325.0" x2="1239.6" y2="1299.0" stroke="#000" stroke-width="5"/>
<line x1="1317.0" y1="1325.0" x2="1317.0" y2="1312.2" stroke="#000" stroke-width="5"/>
<line x1="1394.4" y1="1325.0" x2="1394.4" y2="1299.0" stroke="#000" stroke-width="5"/>
<line x1="1471.7" y1="1325.0" x2="1471.7" y2="1312.2" stroke="#000" stroke-width="5"/>
<line x1="1549.1" y1="1325.0" x2="1549.1" y2="1299.0" stroke="#000" stroke-width="5"/>
<line x1="1626.4" y1="1325.0" x2="1626.4" y2="1312.2" stroke="#000" stroke-width="5"/>
<line x1="1703.8" y1="1325.0" x2="1703.8" y2="1299.0" stroke="#000" stroke-width="5"/>
<line x1="1781.1" y1="1325.0" x2="1781.1" y2="1312.2" stroke="#000" stroke-width="5"/>
<line x1="234.0" y1="94.9" x2="260.0" y2="94.9" stroke="#000" stroke-width="5"/>
<line x1="234.0" y1="171.8" x2="246.8" y2="171.8" stroke="#000" stroke-width="5"/>
<line x1="234.0" y1="248.6" x2="260.0" y2="248.6" stroke="#000" stroke-width="5"/>
<line x1="234.0" y1="325.5" x2="246.8" y2="325.5" stroke="#000" stroke-width="5"/>
<line x1="234.0" y1="402.4" x2="260.0" y2="402.4" stroke="#000" stroke-width="5"/>
<line x1="234.0" y1="479.3" x2="246.8" y2="479.3" stroke="#000" stroke-width="5"/>
<line x1="234.0" y1="556.2" x2="260.0" y2="556.2" stroke="#000" stroke-width="5"/>
<line x1="234.0" y1="633.1" x2="246.8" y2="633.1" stroke="#000" stroke-width="5"/>
<line x1="234.0" y1="709.9" x2="260.0" y2="709.9" stroke="#000" stroke-width="5"/>
<line x1="234.0" y1="786.8" x2="246.8" y2="786.8" stroke="#000" stroke-width="5"/>
<line x1="234.0" y1="863.7" x2="260.0" y2="863.7" stroke="#000" stroke-width="5"/>
<line x1="234.0" y1="940.6" x2="246.8" y2="940.6" stroke="#000" stroke-width="5"/>
<line x1="234.0" y1="1017.5" x2="260.0" y2="1017.5" stroke="#000" stroke-width="5"/>
<line x1="234.0" y1="1094.4" x2="246.8" y2="1094.4" stroke="#000" stroke-width="5"/>
<line x1="234.0" y1="1171.2" x2="260.0" y2="1171.2" stroke="#000" stroke-width="5"/>
<line x1="234.0" y1="1248.1" x2="246.8" y2="1248.1" stroke="#000" stroke-width="5"/>
<text x="306.4" y="1395.5" font-size="57" text-anchor="middle"><tspan font-weight="bold">–</tspan>1.2</text>
<text x="461.1" y="1395.5" font-size="57" text-anchor="middle"><tspan font-weight="bold">–</tspan>1.0</text>
<text x="615.8" y="1395.5" font-size="57" text-anchor="middle"><tspan font-weight="bold">–</tspan>0.8</text>
<text x="770.5" y="1395.5" font-size="57" text-anchor="middle"><tspan font-weight="bold">–</tspan>0.6</text>
<text x="925.2" y="1395.5" font-size="57" text-anchor="middle"><tspan font-weight="bold">–</tspan>0.4</text>
<text x="1079.9" y="1395.5" font-size="57" text-anchor="middle"><tspan font-weight="bold">–</tspan>0.2</text>
<text x="1239.6" y="1395.5" font-size="57" text-anchor="middle">0.0</text>
<text x="1394.4" y="1395.5" font-size="57" text-anchor="middle">0.2</text>
<text x="1549.1" y="1395.5" font-size="57" text-anchor="middle">0.4</text>
<text x="1703.8" y="1395.5" font-size="57" text-anchor="middle">0.6</text>
<text x="1858.5" y="1395.5" font-size="57" text-anchor="middle">0.8</text>
<text x="205.5" y="110.9" font-size="57" text-anchor="end"><tspan font-weight="bold">–</tspan>1</text>
<text x="205.5" y="264.6" font-size="57" text-anchor="end"><tspan font-weight="bold">–</tspan>2</text>
<text x="205.5" y="418.4" font-size="57" text-anchor="end"><tspan font-weight="bold">–</tspan>3</text>
<text x="205.5" y="572.2" font-size="57" text-anchor="end"><tspan font-weight="bold">–</tspan>4</text>
<text x="205.5" y="725.9" font-size="57" text-anchor="end"><tspan font-weight="bold">–</tspan>5</text>
<text x="205.5" y="879.7" font-size="57" text-anchor="end"><tspan font-weight="bold">–</tspan>6</text>
<text x="205.5" y="1033.5" font-size="57" text-anchor="end"><tspan font-weight="bold">–</tspan>7</text>
<text x="205.5" y="1187.2" font-size="57" text-anchor="end"><tspan font-weight="bold">–</tspan>8</text>
<text x="205.5" y="1341.0" font-size="57" text-anchor="end"><tspan font-weight="bold">–</tspan>9</text>
<text x="1047.5" y="1504.8" font-size="68.2" font-weight="bold" text-anchor="middle">Potential (V)</text>
<text transform="translate(82.6,634) rotate(-90)" font-size="69" font-weight="bold" text-anchor="middle">log I (A/cm<tspan dy="-26" font-size="46">2</tspan><tspan dy="26">)</tspan></text>
<line x1="1531.5" y1="724.2" x2="1683" y2="724.2" stroke="#525252" stroke-width="6" stroke-linecap="round"/>
<rect x="1593.2" y="710.4" width="27.6" height="27.6" fill="#525252"/>
<text x="1697" y="747.7" font-size="71">N0</text>
<line x1="1531.5" y1="808" x2="1683" y2="808" stroke="#f03c3c" stroke-width="6" stroke-linecap="round"/>
<circle cx="1607.0" cy="808.0" r="15.4" fill="#f03c3c"/>
<text x="1697" y="831.5" font-size="71">N1</text>
<line x1="1531.5" y1="891.6" x2="1683" y2="891.6" stroke="#1b6de0" stroke-width="6" stroke-linecap="round"/>
<polygon points="1607.0,870.2 1625.7,903.0 1588.3,903.0" fill="#1b6de0"/>
<text x="1697" y="915.1" font-size="71">N2</text>
<line x1="1531.5" y1="974.6" x2="1683" y2="974.6" stroke="#2eaf6b" stroke-width="6" stroke-linecap="round"/>
<circle cx="1607.0" cy="974.6" r="15.4" fill="url(#gsp)"/>
<text x="1697" y="998.1" font-size="71">N3</text>
<line x1="1531.5" y1="1057.6" x2="1683" y2="1057.6" stroke="#ad72e0" stroke-width="6" stroke-linecap="round"/>
<polygon points="1607.0,1037.6 1624.0,1057.6 1607.0,1077.6 1590.0,1057.6" fill="#ad72e0"/>
<text x="1697" y="1081.1" font-size="71">N4</text>
<line x1="1531.5" y1="1142.2" x2="1683" y2="1142.2" stroke="#cc9900" stroke-width="6" stroke-linecap="round"/>
<polygon points="1591.9,1142.2 1618.7,1123.0 1618.7,1161.4" fill="#cc9900"/>
<text x="1697" y="1165.7" font-size="71">N5</text>
</svg></body></html>
